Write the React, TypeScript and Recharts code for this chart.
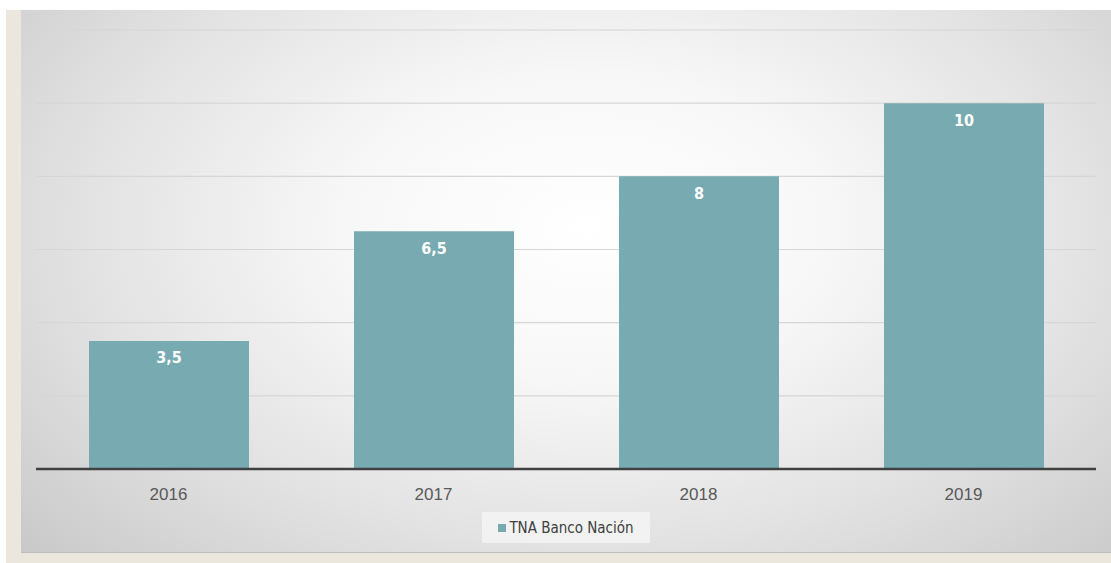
import { BarChart, Bar, XAxis, YAxis, CartesianGrid, Legend, LabelList } from "recharts";

// TNA Banco Nación por año
const years = ["2016", "2017", "2018", "2019"];
const tnaValues = [3.5, 6.5, 8, 10];
const yTicks = [0, 2, 4, 6, 8, 10, 12];

const seriesName = "TNA Banco Nación";
const barColor = "#78aab2";
const narrow = "'Liberation Sans Narrow', 'DejaVu Sans Condensed', sans-serif";

const data = years.map((year, i) => ({ year, tna: tnaValues[i] }));

const formatComma = (v: any) => String(v).replace(".", ",");

function LegendBox() {
  return (
    <div style={{ display: "flex", justifyContent: "center" }}>
      <div
        style={{
          height: 31,
          width: 168,
          boxSizing: "border-box",
          background: "rgba(245,245,245,0.8)",
          display: "flex",
          alignItems: "center",
          justifyContent: "center",
          fontFamily: narrow,
          fontSize: 15,
          color: "#404040",
        }}
      >
        <span
          style={{
            display: "inline-block",
            width: 8,
            height: 8,
            background: barColor,
            marginRight: 3,
          }}
        />
        {seriesName}
      </div>
    </div>
  );
}

export default function App() {
  return (
    <div style={{ position: "relative", width: 1111, height: 563, background: "#ffffff" }}>
      <style>{`body{margin:0}`}</style>
      {/* beige frame */}
      <div
        style={{
          position: "absolute",
          left: 6,
          top: 10,
          width: 1105,
          height: 553,
          background: "#ebe7dd",
        }}
      />
      {/* chart panel */}
      <div
        style={{
          position: "absolute",
          left: 21,
          top: 10,
          width: 1090,
          height: 542,
          background:
            "radial-gradient(ellipse 75% 95% at 52% 40%, #ffffff 0%, #f7f7f7 30%, #e2e2e2 62%, #c4c4c4 100%)",
          borderBottom: "1px solid #bdbdbd",
        }}
      >
        <BarChart
          width={1090}
          height={542}
          data={data}
          margin={{ top: 20, right: 15, left: 15, bottom: 9 }}
          barSize={160}
        >
          <CartesianGrid vertical={false} stroke="#d6d6d6" strokeWidth={1.2} />
          <XAxis
            dataKey="year"
            height={43}
            tickLine={false}
            tickMargin={13}
            axisLine={{ stroke: "#404040", strokeWidth: 2.5 }}
            tick={{ fill: "#595959", fontSize: 17, fontFamily: "'Liberation Sans', Arial, sans-serif" }}
          />
          <YAxis hide domain={[0, 12]} ticks={yTicks} />
          <Legend verticalAlign="bottom" content={() => <LegendBox />} />
          <Bar dataKey="tna" name={seriesName} fill={barColor} isAnimationActive={false}>
            <LabelList
              dataKey="tna"
              position="insideTop"
              offset={11}
              formatter={formatComma}
              fill="#ffffff"
              fontSize={16}
              fontWeight="bold"
              fontFamily={narrow}
            />
          </Bar>
        </BarChart>
      </div>
    </div>
  );
}
